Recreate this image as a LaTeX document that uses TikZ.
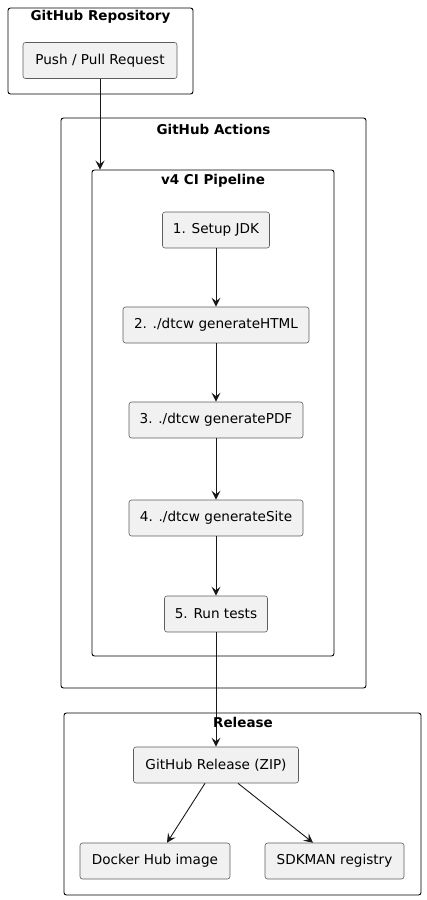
\documentclass[tikz,border=0pt]{standalone}
\usepackage{fontspec}
\setmainfont{DejaVu Sans}
\usetikzlibrary{arrows.meta}
\definecolor{nodefill}{HTML}{F1F1F1}
\definecolor{nodeline}{HTML}{181818}
\tikzset{
  frame/.style={draw=black, line width=0.9pt, rounded corners=2.5pt, inner sep=0pt},
  ftitle/.style={font=\fontsize{13.5}{15}\selectfont\bfseries, inner sep=0pt, anchor=center},
  stepbox/.style={draw=nodeline!70, fill=nodefill, line width=0.6pt, rounded corners=2.5pt, inner sep=0pt, minimum height=36pt, font=\fontsize{13.6}{15}\selectfont},
  arr/.style={draw=nodeline, line width=0.9pt, -{Stealth[length=9pt,width=9pt,inset=3.5pt]}}
}
\begin{document}
\begin{tikzpicture}[x=1pt,y=-1pt]
\useasboundingbox (0,0) rectangle (426,900);
% frames
\node[frame, minimum width=185pt, minimum height=86pt] (repo) at (100.5,51) {};
\node[ftitle] (repot) at (100.5,17) {GitHub Repository};
\node[frame, minimum width=305pt, minimum height=570pt] (actions) at (213.5,403) {};
\node[ftitle] (actionst) at (213.5,129) {GitHub Actions};
\node[frame, minimum width=242pt, minimum height=486pt] (pipe) at (213,413) {};
\node[ftitle] (pipet) at (213,181) {v4 CI Pipeline};
\node[frame, minimum width=357pt, minimum height=182pt] (release) at (242.5,804) {};
% nodes
\node[stepbox, minimum width=154pt] (push) at (100,60.5) {Push / Pull Request};
\node[stepbox, minimum width=107pt] (s1) at (216,230) {1. Setup JDK};
\node[stepbox, minimum width=186pt] (s2) at (216,325) {2. ./dtcw generateHTML};
\node[stepbox, minimum width=174pt] (s3) at (216,420) {3. ./dtcw generatePDF};
\node[stepbox, minimum width=174pt] (s4) at (216,518) {4. ./dtcw generateSite};
\node[stepbox, minimum width=103pt] (s5) at (216,614) {5. Run tests};
\node[stepbox, minimum width=165pt] (gh) at (216,765) {GitHub Release (ZIP)};
\node[stepbox, minimum width=150pt] (docker) at (155,861) {Docker Hub image};
\node[stepbox, minimum width=139pt] (sdk) at (334.5,861) {SDKMAN registry};
% connectors
\draw[arr] (push.south) -- (push.south |- pipe.north);
\draw[arr] (s1) -- (s2);
\draw[arr] (s2) -- (s3);
\draw[arr] (s3) -- (s4);
\draw[arr] (s4) -- (s5);
\draw[arr] (s5) -- (gh);
\draw[arr] ([xshift=-11pt]gh.south) -- ([xshift=12pt]docker.north);
\draw[arr] ([xshift=22pt]gh.south) -- ([xshift=-21.5pt]sdk.north);
% release title drawn over connector
\node[ftitle] (releaset) at (243,722) {Release};
\end{tikzpicture}
\end{document}
